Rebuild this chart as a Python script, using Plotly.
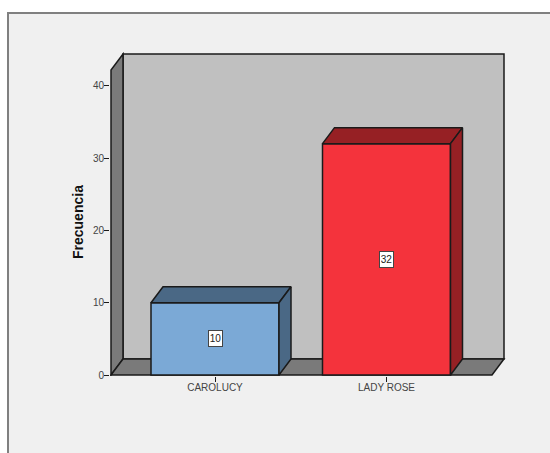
import plotly.graph_objects as go

# Counts per brand
categories = ["CAROLUCY", "LADY ROSE"]
values = [10, 32]
y_ticks = [0, 10, 20, 30, 40]
front_colors = ["#7ba9d6", "#f4333c"]
shade_colors = ["#4a6885", "#962024"]

WIDTH, HEIGHT = 550, 453
LEFT, RIGHT, TOP, BOTTOM = 110, 506, 52, 376   # plot area in page pixels
X0_PX, X_STEP_PX = 215, 171.5                  # first category centre and spacing
Y0_PX, Y_UNIT_PX = 375, 7.23                   # baseline and pixels per count
DEPTH_X_PX, DEPTH_Y_PX = 12, 16                # oblique projection of the 3D box
BAR_PX = 128
OUTLINE = "#1a1a1a"
TEXT = "#444444"

# Pixel-derived helpers for the axis scales
def xu(px):
    return (px - X0_PX) / X_STEP_PX

def yu(px):
    return (Y0_PX - px) / Y_UNIT_PX

dx = DEPTH_X_PX / X_STEP_PX
dy = DEPTH_Y_PX / Y_UNIT_PX
half = BAR_PX / X_STEP_PX / 2
x_left, x_right = xu(111), xu(492)
y_top = yu(70)


def poly(points):
    return "M" + " L".join(f"{x},{y}" for x, y in points) + " Z"


def wall(points, fill):
    return dict(type="path", path=poly(points), xref="x", yref="y", layer="below",
                fillcolor=fill, line=dict(color=OUTLINE, width=1.5))


shapes = [
    # Chart panel
    dict(type="rect", xref="paper", yref="paper", layer="below",
         x0=(8 - LEFT) / (RIGHT - LEFT),
         x1=(WIDTH + 10 - LEFT) / (RIGHT - LEFT),
         y0=(BOTTOM - HEIGHT - 10) / (BOTTOM - TOP),
         y1=(BOTTOM - 13) / (BOTTOM - TOP),
         fillcolor="#f0f0f0", line=dict(color="#808080", width=2)),
    # Back wall, side wall and floor of the box
    wall([(x_left + dx, dy), (x_right + dx, dy), (x_right + dx, y_top + dy), (x_left + dx, y_top + dy)], "#c0c0c0"),
    wall([(x_left, 0), (x_left + dx, dy), (x_left + dx, y_top + dy), (x_left, y_top)], "#7a7a7a"),
    wall([(x_left, 0), (x_left + dx, dy), (x_right + dx, dy), (x_right, 0)], "#7a7a7a"),
]

fig = go.Figure()

# Front faces
fig.add_trace(go.Bar(
    x=[0, 1], y=values, width=2 * half,
    marker=dict(color=front_colors, line=dict(color=OUTLINE, width=1.5)),
    hoverinfo="skip",
))

# Top and side faces of each bar
for i, v in enumerate(values):
    l, r = i - half, i + half
    top_x = [l, l + dx, r + dx, r, l]
    top_y = [v, v + dy, v + dy, v, v]
    side_x = [r, r + dx, r + dx, r, r]
    side_y = [v, v + dy, dy, 0, v]
    for xs, ys in ((top_x, top_y), (side_x, side_y)):
        fig.add_trace(go.Scatter(
            x=xs, y=ys, mode="lines", fill="toself", fillcolor=shade_colors[i],
            line=dict(color=OUTLINE, width=1.5), hoverinfo="skip",
        ))

# Value tags in the middle of each bar
annotations = [
    dict(x=i, y=v / 2, text=str(v), showarrow=False, bgcolor="white",
         bordercolor="#444444", borderwidth=1, borderpad=1, width=11, height=13,
         font=dict(family="Liberation Sans", size=10, color="#222222"))
    for i, v in enumerate(values)
]
annotations.append(dict(
    x=(78 - LEFT) / (RIGHT - LEFT), y=(BOTTOM - 222) / (BOTTOM - TOP),
    xref="paper", yref="paper", xanchor="center", yanchor="middle",
    text="<b>Frecuencia</b>", textangle=-90, showarrow=False,
    font=dict(family="Liberation Sans", size=14, color="#111111"),
))

fig.update_layout(
    width=WIDTH, height=HEIGHT, autosize=False,
    margin=dict(l=LEFT, r=WIDTH - RIGHT, t=TOP, b=HEIGHT - BOTTOM, pad=0),
    paper_bgcolor="white", plot_bgcolor="rgba(0,0,0,0)",
    showlegend=False, shapes=shapes, annotations=annotations,
    font=dict(family="Liberation Sans", size=10, color=TEXT),
    xaxis=dict(range=[xu(LEFT), xu(RIGHT)], tickvals=[0, 1], ticktext=categories,
               ticks="outside", ticklen=5, tickcolor=OUTLINE, tickwidth=1,
               ticklabelstandoff=-3,
               showgrid=False, zeroline=False, showline=False),
    yaxis=dict(range=[yu(BOTTOM), yu(TOP)], tickvals=y_ticks,
               ticks="outside", ticklen=5, tickcolor=OUTLINE, tickwidth=1,
               ticklabelstandoff=-2,
               showgrid=False, zeroline=False, showline=False),
)

fig.write_html("out.html", config=dict(displayModeBar=False))
